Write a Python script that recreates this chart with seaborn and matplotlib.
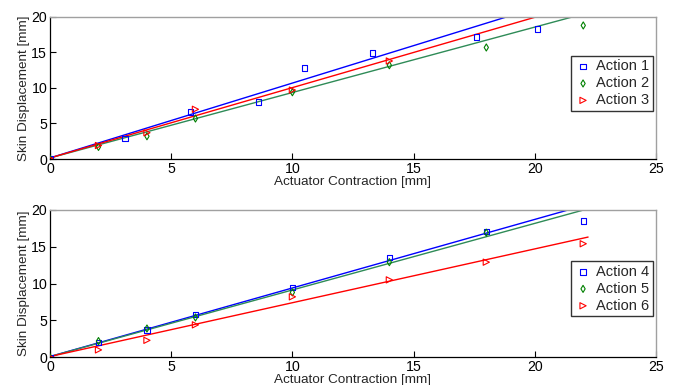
import numpy as np
import pandas as pd
import matplotlib
matplotlib.use("Agg")
import matplotlib.pyplot as plt
import seaborn as sns

# ---- data ----
a1_x = [0, 3.1, 5.8, 8.6, 10.5, 13.3, 17.6, 20.1]
a1_y = [0, 2.9, 6.6, 8.0, 12.8, 14.9, 17.2, 18.3]
a2_x = [0, 2, 4, 6, 10, 14, 18, 22]
a2_y = [0, 1.7, 3.2, 5.7, 9.4, 13.2, 15.7, 18.8]
a3_x = [0, 2, 4, 6, 10, 14]
a3_y = [0, 1.9, 3.7, 7.0, 9.7, 13.8]

a4_x = [0, 2, 4, 6, 10, 14, 18, 22]
a4_y = [0, 2.0, 3.7, 5.8, 9.5, 13.5, 17.1, 18.5]
a5_x = [0, 2, 4, 6, 10, 14, 18]
a5_y = [0, 2.2, 3.9, 5.4, 8.8, 12.9, 16.9]
a6_x = [0, 2, 4, 6, 10, 14, 18, 22]
a6_y = [0, 1.0, 2.3, 4.4, 8.2, 10.5, 12.9, 15.4]

top_labels = ["Action 1", "Action 2", "Action 3"]
bot_labels = ["Action 4", "Action 5", "Action 6"]
top_slope = [1.054, 0.921, 0.990]
top_icept = [0.15, 0.15, 0.15]
bot_slope = [0.930, 0.903, 0.730]
bot_icept = [0.1, 0.1, 0.1]
fit_x_range = [0, 22.2]

x_ticks = [0, 5, 10, 15, 20, 25]
y_ticks = [0, 5, 10, 15, 20]

marker_colors = ["#0000FF", "#008000", "#FF0000"]
line_colors = ["#0000FF", "#2E8B57", "#FF0000"]
markers = ["s", "d", ">"]
msizes = [15, 13, 20]

sns.set_style("ticks")
plt.rcParams['font.family'] = ['Liberation Sans', 'DejaVu Sans']
plt.rcParams['font.size'] = 9

fig = plt.figure(figsize=(6.73, 3.85), dpi=100)
ax_top = fig.add_axes([0.0743, 0.587, 0.9004, 0.369])
ax_bot = fig.add_axes([0.0743, 0.072, 0.9004, 0.383])


def draw(ax, xs, ys, labels, slopes, icepts, legend_top):
    frames = []
    for x, y, lab in zip(xs, ys, labels):
        frames.append(pd.DataFrame({"x": x, "y": y, "series": lab}))
    df = pd.concat(frames, ignore_index=True)
    for i, lab in enumerate(labels):
        sub = df[df.series == lab]
        sns.scatterplot(data=sub, x="x", y="y", ax=ax, marker=markers[i],
                        s=msizes[i], facecolor="none", edgecolor=marker_colors[i],
                        linewidth=0.8, label=lab, zorder=3)
    for i, lab in enumerate(labels):
        fx = np.array(fit_x_range, dtype=float)
        fy = slopes[i] * fx + icepts[i]
        sns.lineplot(x=fx, y=fy, ax=ax, color=line_colors[i], linewidth=1.0,
                     zorder=2, legend=False)
    ax.set_xlim(0, 25)
    ax.set_ylim(0, 20)
    ax.set_xticks(x_ticks)
    ax.set_yticks(y_ticks)
    ax.tick_params(direction="in", length=4, width=0.8, labelsize=10.2, pad=2,
                   colors="black")
    for s in ["left", "bottom"]:
        ax.spines[s].set_color("black")
        ax.spines[s].set_linewidth(0.9)
    for s in ["top", "right"]:
        ax.spines[s].set_color("#a0a0a0")
        ax.spines[s].set_linewidth(1.0)
    ax.set_xlabel("Actuator Contraction [mm]", fontsize=9.7, labelpad=0)
    ax.set_ylabel("Skin Displacement [mm]", fontsize=9.7, labelpad=1)
    leg = ax.legend(loc="upper right", bbox_to_anchor=(0.995, legend_top),
                    frameon=True, fancybox=False, edgecolor="black",
                    fontsize=10.5, handletextpad=0.3, borderpad=0.25,
                    labelspacing=0.2, handlelength=1.2, borderaxespad=0)
    leg.get_frame().set_linewidth(1.0)


draw(ax_top, [a1_x, a2_x, a3_x], [a1_y, a2_y, a3_y], top_labels,
     top_slope, top_icept, 0.727)
draw(ax_bot, [a4_x, a5_x, a6_x], [a4_y, a5_y, a6_y], bot_labels,
     bot_slope, bot_icept, 0.652)

fig.savefig("out.png", dpi=100)
